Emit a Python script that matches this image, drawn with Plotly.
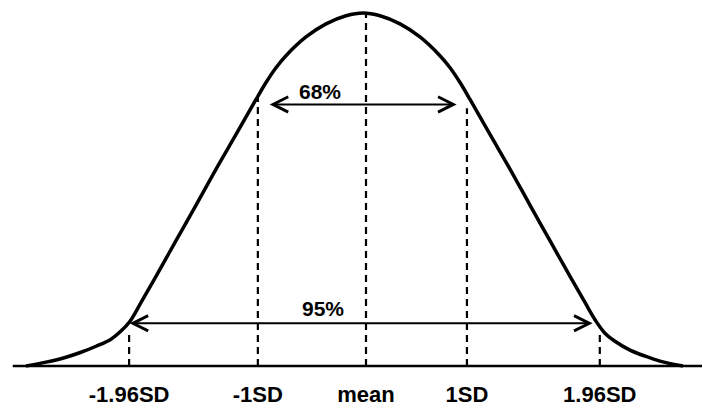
import plotly.graph_objects as go

# Curve (x in SD-like units, y = height relative to the peak)
curve_x = [-3.301, -3.107, -2.913, -2.767, -2.621, -2.476, -2.379, -2.291, -2.184, -2.039,
           -1.845, -1.650, -1.456, -1.262, -1.068, -0.971, -0.874, -0.777, -0.583, -0.388,
           -0.194, -0.029, 0.136, 0.330, 0.524, 0.718, 0.816, 0.913, 1.010, 1.204, 1.398,
           1.592, 1.786, 1.981, 2.126, 2.233, 2.320, 2.417, 2.563, 2.709, 2.854, 3.078]
curve_y = [0.000, 0.011, 0.025, 0.039, 0.056, 0.076, 0.099, 0.127, 0.180, 0.254,
           0.355, 0.456, 0.558, 0.656, 0.755, 0.803, 0.845, 0.879, 0.932, 0.969,
           0.992, 1.000, 0.992, 0.969, 0.932, 0.879, 0.845, 0.803, 0.755, 0.656, 0.558,
           0.456, 0.355, 0.254, 0.180, 0.127, 0.093, 0.070, 0.045, 0.028, 0.014, 0.000]

# Reference lines and their labels
line_x = [-2.30, -1.05, 0.00, 0.98, 2.27]
line_top = [0.10, 0.76, 1.00, 0.73, 0.10]
line_labels = ["-1.96SD", "-1SD", "mean", "1SD", "1.96SD"]

# Baseline extent
base_x = [-3.43, 3.40]

# Interval arrows
arrow_labels = ["68%", "95%"]
arrow_left = [-0.95, -2.31]
arrow_right = [0.88, 2.20]
arrow_y = [0.741, 0.121]
label_x = [-0.45, -0.42]
label_y = [0.777, 0.163]

FONT = "Liberation Sans, Arial, Helvetica, sans-serif"

fig = go.Figure()

# dashed vertical lines
for x, top in zip(line_x, line_top):
    fig.add_trace(go.Scatter(x=[x, x], y=[0, top], mode="lines",
                             line=dict(color="black", width=2.2, dash="7px,5px"),
                             hoverinfo="skip", showlegend=False))

# baseline
fig.add_trace(go.Scatter(x=base_x, y=[0, 0], mode="lines",
                         line=dict(color="black", width=2.5),
                         hoverinfo="skip", showlegend=False))

# curve
fig.add_trace(go.Scatter(x=curve_x, y=curve_y, mode="lines",
                         line=dict(color="black", width=3.5, shape="spline", smoothing=1.0),
                         hoverinfo="skip", showlegend=False))

for lab, xl, xr, ya, lx, ly in zip(arrow_labels, arrow_left, arrow_right, arrow_y, label_x, label_y):
    fig.add_annotation(x=xr, y=ya, ax=xl, ay=ya, xref="x", yref="y", axref="x", ayref="y",
                       text="", showarrow=True, arrowhead=5, startarrowhead=5,
                       arrowside="end+start", arrowwidth=2, arrowsize=1.5, startarrowsize=1.5,
                       arrowcolor="black")
    fig.add_annotation(x=lx, y=ly, xref="x", yref="y", text=lab, showarrow=False,
                       font=dict(family=FONT, size=21, color="black", weight="bold"))

fig.update_layout(
    width=702, height=399,
    margin=dict(l=0, r=0, t=0, b=37),
    paper_bgcolor="white", plot_bgcolor="white",
    xaxis=dict(range=[-3.476, 3.340], showgrid=False, zeroline=False, showline=False,
               tickmode="array", tickvals=line_x, ticktext=line_labels, ticks="",
               ticklabelstandoff=11,
               tickfont=dict(family=FONT, size=22, color="black", weight="bold")),
    yaxis=dict(range=[-0.0056, 1.0141], showgrid=False, zeroline=False, showline=False,
               showticklabels=False),
)

fig.write_html("out.html")
